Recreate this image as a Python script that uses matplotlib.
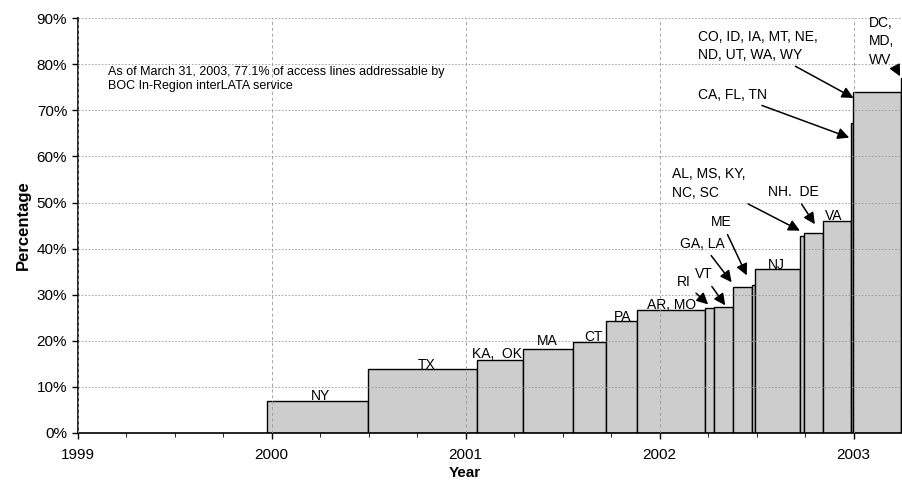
import matplotlib
matplotlib.use("Agg")
import matplotlib.pyplot as plt
from matplotlib.ticker import MultipleLocator, FuncFormatter

plt.rcParams['font.family'] = ['Liberation Sans', 'DejaVu Sans']

# step edges (decimal year) and coverage (%) after each approval
starts = [1999.975, 2000.495, 2001.057, 2001.294, 2001.552, 2001.722, 2001.884,
          2002.234, 2002.282, 2002.380, 2002.475, 2002.489, 2002.724, 2002.745,
          2002.844, 2002.985, 2002.997, 2003.243]
ends = starts[1:] + [2003.40]
pct = [7.0, 13.8, 15.8, 18.2, 19.7, 24.2, 26.7, 27.2, 27.4, 31.6, 32.1, 35.5,
       42.8, 43.5, 46.1, 67.3, 74.0, 77.1]

# plain labels sitting on a bar: (text, x, y)
plain = [("NY", 2000.25, 6.4), ("TX", 2000.80, 13.2), ("KA,  OK", 2001.16, 15.7),
         ("MA", 2001.42, 18.4), ("CT", 2001.66, 19.3), ("PA", 2001.81, 23.7),
         ("AR, MO", 2002.06, 26.3), ("NJ", 2002.60, 35.0), ("VA", 2002.895, 45.6)]

# arrow labels: (text, text x, text y, tip x, tip y, ha)
arrows = [("RI", 2002.127, 32.7, 2002.25, 27.9, 'center'),
          ("VT", 2002.225, 34.4, 2002.338, 27.7, 'center'),
          ("GA, LA", 2002.218, 41.1, 2002.371, 32.7, 'center'),
          ("ME", 2002.32, 45.7, 2002.449, 34.2, 'center'),
          ("AL, MS, KY,\nNC, SC", 2002.064, 54.1, 2002.723, 43.9, 'left'),
          ("NH.  DE", 2002.69, 52.3, 2002.80, 45.3, 'center'),
          ("CA, FL, TN", 2002.199, 73.4, 2002.977, 64.1, 'left'),
          ("CO, ID, IA, MT, NE,\nND, UT, WA, WY", 2002.199, 84.0, 2002.999, 72.7, 'left'),
          ("DC,\nMD,\nWV", 2003.08, 85.0, 2003.239, 77.4, 'left')]

fig = plt.figure(figsize=(9.02, 4.8), dpi=100)
ax = fig.add_axes([0.086, 0.098, 0.914, 0.864])

widths = [e - s for s, e in zip(starts, ends)]
ax.bar(starts, pct, width=widths, align='edge', color='#cdcdcd',
       edgecolor='black', linewidth=1.0, zorder=1)

ax.set_xlim(1999, 2003.249)
ax.set_ylim(0, 90)
ax.xaxis.set_major_locator(MultipleLocator(1))
ax.xaxis.set_minor_locator(MultipleLocator(0.25))
ax.yaxis.set_major_locator(MultipleLocator(10))
ax.yaxis.set_major_formatter(FuncFormatter(lambda v, p: "%d%%" % v))
ax.tick_params(axis='both', labelsize=11, direction='out', length=4, width=1)
ax.tick_params(axis='x', which='minor', length=3)
ax.tick_params(axis='x', pad=7)

ax.grid(axis='y', color='#9a9a9a', linestyle=(0, (2, 2)), linewidth=0.6, zorder=2)
ax.grid(axis='x', color='#9a9a9a', linestyle=(0, (4, 3)), linewidth=0.6, zorder=2)
ax.set_axisbelow(False)

for s in ['top', 'right']:
    ax.spines[s].set_visible(False)
ax.spines['left'].set_linewidth(1.2)
ax.spines['bottom'].set_linewidth(1.2)

ax.set_ylabel("Percentage", fontsize=12, fontweight='bold')
ax.set_xlabel("Year", fontsize=11, fontweight='bold', labelpad=0)
ax.xaxis.set_label_coords(0.47, -0.08)

for t, x, y in plain:
    ax.text(x, y, t, ha='center', va='bottom', fontsize=10, zorder=5)

for t, tx, ty, px, py, ha in arrows:
    ax.annotate(t, xy=(px, py), xytext=(tx, ty), ha=ha, va='center', fontsize=10,
                linespacing=1.4, zorder=5,
                arrowprops=dict(arrowstyle='-|>', color='black', lw=1.1,
                                mutation_scale=17, shrinkA=2, shrinkB=0))

ax.text(1999.158, 76.8, "As of March 31, 2003, 77.1% of access lines addressable by\n"
        "BOC In-Region interLATA service", ha='left', va='center', fontsize=9,
        linespacing=1.3, zorder=5)

fig.savefig("out.png", dpi=100)
